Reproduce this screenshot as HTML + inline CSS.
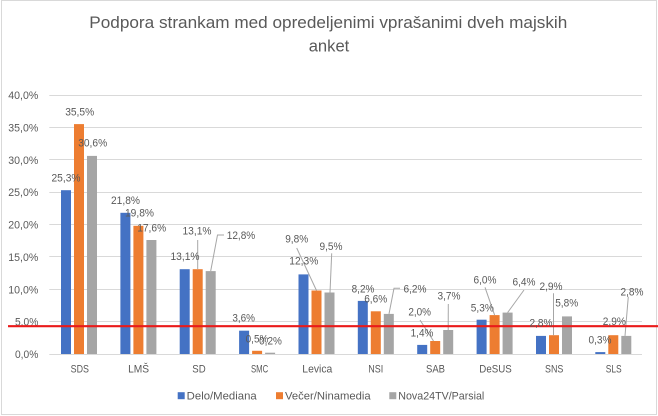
<!DOCTYPE html>
<html><head><meta charset="utf-8"><style>
html,body{margin:0;padding:0;background:#fff;}
svg{display:block;}
text{font-family:"Liberation Sans",sans-serif;fill:#595959;}
</style></head><body>
<svg width="658" height="416" viewBox="0 0 658 416" xmlns="http://www.w3.org/2000/svg">
<rect x="0" y="0" width="658" height="416" fill="#fff"/>
<rect x="1.5" y="0.5" width="655" height="414" fill="none" stroke="#d9d9d9" stroke-width="1"/>
<!-- title -->
<text x="328.3" y="28" font-size="17" text-anchor="middle" textLength="478" lengthAdjust="spacingAndGlyphs">Podpora strankam med opredeljenimi vprašanimi dveh majskih</text>
<text x="329" y="51.5" font-size="17" text-anchor="middle" textLength="40.6" lengthAdjust="spacingAndGlyphs">anket</text>
<!-- gridlines -->
<g stroke="#d9d9d9" stroke-width="1">
<line x1="49.3" x2="642" y1="95.5" y2="95.5"/>
<line x1="49.3" x2="642" y1="127.5" y2="127.5"/>
<line x1="49.3" x2="642" y1="159.5" y2="159.5"/>
<line x1="49.3" x2="642" y1="192.5" y2="192.5"/>
<line x1="49.3" x2="642" y1="224.5" y2="224.5"/>
<line x1="49.3" x2="642" y1="256.5" y2="256.5"/>
<line x1="49.3" x2="642" y1="289.5" y2="289.5"/>
<line x1="49.3" x2="642" y1="321.5" y2="321.5"/>
<line x1="49.3" x2="642" y1="354.5" y2="354.5"/>
</g>
<!-- y labels -->
<g font-size="11" text-anchor="end">
<text x="38.3" y="99" textLength="30" lengthAdjust="spacingAndGlyphs">40,0%</text>
<text x="38.3" y="131.4" textLength="30" lengthAdjust="spacingAndGlyphs">35,0%</text>
<text x="38.3" y="163.8" textLength="30" lengthAdjust="spacingAndGlyphs">30,0%</text>
<text x="38.3" y="196.1" textLength="30" lengthAdjust="spacingAndGlyphs">25,0%</text>
<text x="38.3" y="228.5" textLength="30" lengthAdjust="spacingAndGlyphs">20,0%</text>
<text x="38.3" y="260.9" textLength="30" lengthAdjust="spacingAndGlyphs">15,0%</text>
<text x="38.3" y="293.3" textLength="30" lengthAdjust="spacingAndGlyphs">10,0%</text>
<text x="38.3" y="325.6" textLength="23.3" lengthAdjust="spacingAndGlyphs">5,0%</text>
<text x="38.3" y="358" textLength="23.3" lengthAdjust="spacingAndGlyphs">0,0%</text>
</g>
<!-- bars -->
<g fill="#4472C4">
<rect x="61.0" y="190.2" width="10" height="163.8"/>
<rect x="120.4" y="212.8" width="10" height="141.2"/>
<rect x="179.7" y="269.2" width="10" height="84.8"/>
<rect x="239.1" y="330.7" width="10" height="23.3"/>
<rect x="298.5" y="274.4" width="10" height="79.6"/>
<rect x="357.8" y="300.9" width="10" height="53.1"/>
<rect x="417.2" y="344.9" width="10" height="9.1"/>
<rect x="476.6" y="319.7" width="10" height="34.3"/>
<rect x="536.0" y="335.9" width="10" height="18.1"/>
<rect x="595.3" y="352.1" width="10" height="1.9"/>
</g>
<g fill="#ED7D31">
<rect x="74.0" y="124.1" width="10" height="229.9"/>
<rect x="133.4" y="225.8" width="10" height="128.2"/>
<rect x="192.7" y="269.2" width="10" height="84.8"/>
<rect x="252.1" y="350.8" width="10" height="3.2"/>
<rect x="311.5" y="290.5" width="10" height="63.5"/>
<rect x="370.8" y="311.3" width="10" height="42.7"/>
<rect x="430.2" y="341.0" width="10" height="13.0"/>
<rect x="489.6" y="315.1" width="10" height="38.9"/>
<rect x="549.0" y="335.2" width="10" height="18.8"/>
<rect x="608.3" y="335.2" width="10" height="18.8"/>
</g>
<g fill="#A5A5A5">
<rect x="87.0" y="155.9" width="10" height="198.1"/>
<rect x="146.4" y="240.0" width="10" height="114.0"/>
<rect x="205.7" y="271.1" width="10" height="82.9"/>
<rect x="265.1" y="352.7" width="10" height="1.3"/>
<rect x="324.5" y="292.5" width="10" height="61.5"/>
<rect x="383.8" y="313.9" width="10" height="40.1"/>
<rect x="443.2" y="330.0" width="10" height="24.0"/>
<rect x="502.6" y="312.6" width="10" height="41.4"/>
<rect x="562.0" y="316.4" width="10" height="37.6"/>
<rect x="621.3" y="335.9" width="10" height="18.1"/>
</g>
<!-- leader lines -->
<g stroke="#a6a6a6" stroke-width="1" fill="none">
<line x1="197.7" y1="240" x2="197.7" y2="269"/>
<polyline points="210.7,271 217.5,235 224,235"/>
<line x1="296.7" y1="248" x2="316.5" y2="290.5"/>
<line x1="331.7" y1="253.3" x2="330" y2="292.5"/>
<polyline points="400,288.3 394,288.3 389,313.9"/>
<line x1="420" y1="320" x2="433.5" y2="341"/>
<line x1="448.3" y1="304" x2="448.2" y2="330"/>
<line x1="485" y1="287.3" x2="494.6" y2="315.1"/>
<line x1="524" y1="290" x2="507.6" y2="312.6"/>
<line x1="553.5" y1="293.3" x2="553.5" y2="335.2"/>
<line x1="628.3" y1="296.7" x2="625" y2="335.9"/>
</g>
<!-- red line -->
<line x1="8" y1="326.2" x2="658" y2="326.2" stroke="#EA1A1A" stroke-width="2.2"/>
<!-- data labels -->
<g font-size="11" text-anchor="middle">
<text x="66" y="181.7" textLength="29" lengthAdjust="spacingAndGlyphs">25,3%</text>
<text x="79.7" y="115.7" textLength="29" lengthAdjust="spacingAndGlyphs">35,5%</text>
<text x="92.7" y="146.3" textLength="29" lengthAdjust="spacingAndGlyphs">30,6%</text>
<text x="125.5" y="204" textLength="29" lengthAdjust="spacingAndGlyphs">21,8%</text>
<text x="139.5" y="216.3" textLength="29" lengthAdjust="spacingAndGlyphs">19,8%</text>
<text x="151.7" y="231.3" textLength="29" lengthAdjust="spacingAndGlyphs">17,6%</text>
<text x="185" y="260" textLength="29" lengthAdjust="spacingAndGlyphs">13,1%</text>
<text x="197" y="234.7" textLength="29" lengthAdjust="spacingAndGlyphs">13,1%</text>
<text x="241" y="239" textLength="28.5" lengthAdjust="spacingAndGlyphs">12,8%</text>
<text x="243.7" y="321.7" textLength="22.7" lengthAdjust="spacingAndGlyphs">3,6%</text>
<text x="257" y="342.3" textLength="22.7" lengthAdjust="spacingAndGlyphs">0,5%</text>
<text x="270.5" y="344.7" textLength="22.7" lengthAdjust="spacingAndGlyphs">0,2%</text>
<text x="303.8" y="264.7" textLength="29" lengthAdjust="spacingAndGlyphs">12,3%</text>
<text x="296.7" y="242.3" textLength="23" lengthAdjust="spacingAndGlyphs">9,8%</text>
<text x="331" y="250" textLength="23" lengthAdjust="spacingAndGlyphs">9,5%</text>
<text x="363" y="292.3" textLength="22.7" lengthAdjust="spacingAndGlyphs">8,2%</text>
<text x="375.7" y="302.3" textLength="23" lengthAdjust="spacingAndGlyphs">6,6%</text>
<text x="415" y="292.3" textLength="23" lengthAdjust="spacingAndGlyphs">6,2%</text>
<text x="422" y="336.3" textLength="22.7" lengthAdjust="spacingAndGlyphs">1,4%</text>
<text x="419.7" y="315.7" textLength="22.7" lengthAdjust="spacingAndGlyphs">2,0%</text>
<text x="449" y="299.7" textLength="23" lengthAdjust="spacingAndGlyphs">3,7%</text>
<text x="482.3" y="311.3" textLength="23" lengthAdjust="spacingAndGlyphs">5,3%</text>
<text x="485" y="283.3" textLength="23" lengthAdjust="spacingAndGlyphs">6,0%</text>
<text x="524" y="285.7" textLength="23" lengthAdjust="spacingAndGlyphs">6,4%</text>
<text x="541" y="326.7" textLength="23" lengthAdjust="spacingAndGlyphs">2,8%</text>
<text x="551" y="290" textLength="23" lengthAdjust="spacingAndGlyphs">2,9%</text>
<text x="566.7" y="306.7" textLength="23" lengthAdjust="spacingAndGlyphs">5,8%</text>
<text x="600" y="343.3" textLength="23" lengthAdjust="spacingAndGlyphs">0,3%</text>
<text x="614.3" y="325" textLength="23" lengthAdjust="spacingAndGlyphs">2,9%</text>
<text x="632" y="295.7" textLength="23" lengthAdjust="spacingAndGlyphs">2,8%</text>
</g>
<!-- category labels -->
<g font-size="11" text-anchor="middle">
<text x="79.8" y="372.5" textLength="18.3" lengthAdjust="spacingAndGlyphs">SDS</text>
<text x="138.6" y="372.5" textLength="21" lengthAdjust="spacingAndGlyphs">LMŠ</text>
<text x="199" y="372.5" textLength="13.4" lengthAdjust="spacingAndGlyphs">SD</text>
<text x="259.6" y="372.5" textLength="17.3" lengthAdjust="spacingAndGlyphs">SMC</text>
<text x="317.3" y="372.5" textLength="30" lengthAdjust="spacingAndGlyphs">Levica</text>
<text x="375.8" y="372.5" textLength="15" lengthAdjust="spacingAndGlyphs">NSI</text>
<text x="435.5" y="372.5" textLength="19" lengthAdjust="spacingAndGlyphs">SAB</text>
<text x="495.5" y="372.5" textLength="32.4" lengthAdjust="spacingAndGlyphs">DeSUS</text>
<text x="554.2" y="372.5" textLength="18.3" lengthAdjust="spacingAndGlyphs">SNS</text>
<text x="613.7" y="372.5" textLength="16" lengthAdjust="spacingAndGlyphs">SLS</text>
</g>
<!-- legend -->
<rect x="177.7" y="392.2" width="7" height="7" fill="#4472C4"/>
<text x="186.7" y="399.7" font-size="11" textLength="70" lengthAdjust="spacingAndGlyphs">Delo/Mediana</text>
<rect x="276" y="392.2" width="7" height="7" fill="#ED7D31"/>
<text x="285" y="399.7" font-size="11" textLength="85.7" lengthAdjust="spacingAndGlyphs">Večer/Ninamedia</text>
<rect x="389.3" y="392.2" width="7" height="7" fill="#A5A5A5"/>
<text x="398.3" y="399.7" font-size="11" textLength="86" lengthAdjust="spacingAndGlyphs">Nova24TV/Parsial</text>
</svg>
</body></html>
